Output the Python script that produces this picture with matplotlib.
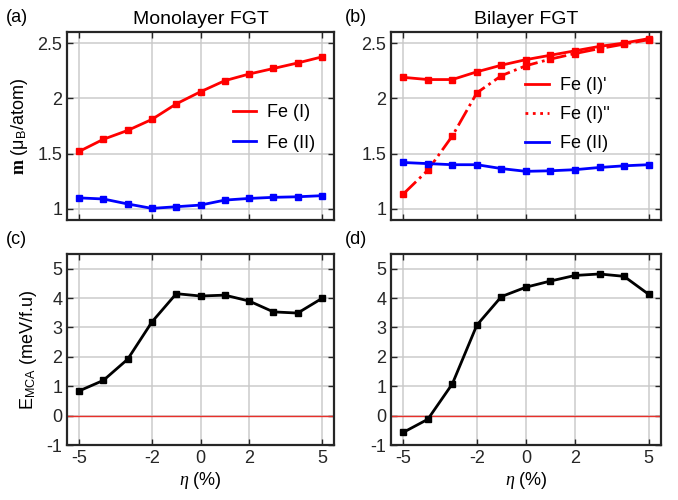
import matplotlib
matplotlib.use("Agg")
import matplotlib.pyplot as plt
from matplotlib.lines import Line2D

plt.rcParams['font.family'] = ['Liberation Sans', 'DejaVu Sans']
plt.rcParams['mathtext.fontset'] = 'custom'
plt.rcParams['mathtext.rm'] = 'Liberation Sans'
plt.rcParams['mathtext.it'] = 'Liberation Serif:italic'
plt.rcParams['mathtext.bf'] = 'Liberation Serif:bold'
plt.rcParams['axes.unicode_minus'] = False

# strain values (%)
eta = [-5, -4, -3, -2, -1, 0, 1, 2, 3, 4, 5]

# monolayer moments
mono_fe1 = [1.52, 1.63, 1.71, 1.81, 1.95, 2.06, 2.16, 2.22, 2.27, 2.32, 2.375]
mono_fe2 = [1.10, 1.09, 1.045, 1.005, 1.02, 1.035, 1.08, 1.095, 1.105, 1.11, 1.12]

# bilayer moments
bi_fe1a = [2.19, 2.17, 2.17, 2.24, 2.30, 2.35, 2.39, 2.43, 2.47, 2.50, 2.54]
bi_fe1b = [1.135, 1.35, 1.66, 2.05, 2.205, 2.295, 2.355, 2.405, 2.45, 2.49, 2.53]
bi_fe2 = [1.42, 1.41, 1.40, 1.40, 1.365, 1.34, 1.345, 1.355, 1.375, 1.39, 1.40]

# MCA energies (meV/f.u)
mca_mono = [0.84, 1.20, 1.92, 3.19, 4.15, 4.07, 4.10, 3.90, 3.53, 3.49, 3.99]
mca_bi = [-0.57, -0.125, 1.08, 3.08, 4.05, 4.37, 4.58, 4.77, 4.82, 4.74, 4.13]

xticks = [-5, -2, 0, 2, 5]
frame_col = '#262626'

fig = plt.figure(figsize=(6.78, 5.0), dpi=100)
ax_a = fig.add_axes([0.0988, 0.56, 0.394, 0.376])
ax_b = fig.add_axes([0.5767, 0.56, 0.398, 0.376])
ax_c = fig.add_axes([0.0988, 0.11, 0.394, 0.382])
ax_d = fig.add_axes([0.5767, 0.11, 0.398, 0.382])


def style(ax, top):
    ax.set_xlim(-5.5, 5.5)
    ax.set_xticks(xticks)
    if top:
        ax.set_ylim(0.9, 2.6)
        ax.set_yticks([1, 1.5, 2, 2.5])
        ax.set_yticklabels(['1', '1.5', '2', '2.5'])
        ax.set_xticklabels([])
    else:
        ax.set_ylim(-1, 5.5)
        ax.set_yticks(range(-1, 6))
        ax.axhline(0, color='#e8302a', lw=1.0, zorder=1)
        ax.set_xlabel(r'$\eta$ (%)', fontsize=13, labelpad=2)
    ax.grid(True, color='#c8c8c8', lw=1.3, alpha=0.8)
    ax.set_axisbelow(True)
    ax.tick_params(direction='in', top=True, right=True, length=4,
                   width=1.0, color=frame_col, labelsize=13,
                   labelcolor='#262626')
    for s in ax.spines.values():
        s.set_linewidth(1.6)
        s.set_color(frame_col)


lw = 2.0
ms = 4

ax_a.plot(eta, mono_fe1, '-s', color='red', lw=lw, ms=ms)
ax_a.plot(eta, mono_fe2, '-s', color='blue', lw=lw, ms=ms)
style(ax_a, True)
ax_a.set_title('Monolayer FGT', fontsize=14, pad=6)
ax_a.set_ylabel(r'$\mathbf{m}$ (μ$_\mathrm{B}$/atom)', fontsize=13, labelpad=5)
handles_a = [Line2D([], [], color='red', lw=lw),
             Line2D([], [], color='blue', lw=lw)]
ax_a.legend(handles_a, ['Fe (I)', 'Fe (II)'], loc='center right',
            bbox_to_anchor=(0.99, 0.49), frameon=False,
            fontsize=13, handlelength=1.3, handletextpad=0.6,
            labelspacing=0.75)

ax_b.plot(eta, bi_fe1a, '-s', color='red', lw=lw, ms=ms)
ax_b.plot(eta, bi_fe1b, '-.s', color='red', lw=lw, ms=ms)
ax_b.plot(eta, bi_fe2, '-s', color='blue', lw=lw, ms=ms)
style(ax_b, True)
ax_b.set_title('Bilayer FGT', fontsize=14, pad=6)
handles = [Line2D([], [], color='red', lw=lw, ls='-'),
           Line2D([], [], color='red', lw=lw, ls=':'),
           Line2D([], [], color='blue', lw=lw, ls='-')]
ax_b.legend(handles, ["Fe (I)'", "Fe (I)''", 'Fe (II)'], loc='center right',
            bbox_to_anchor=(0.87, 0.56), frameon=False, fontsize=13,
            handlelength=1.3, handletextpad=0.6, labelspacing=0.65)

ax_c.plot(eta, mca_mono, '-s', color='black', lw=lw, ms=ms)
style(ax_c, False)
ax_c.set_ylabel(r'E$_\mathrm{MCA}$ (meV/f.u)', fontsize=13, labelpad=5)

ax_d.plot(eta, mca_bi, '-s', color='black', lw=lw, ms=ms)
style(ax_d, False)

for lab, x, y in [('(a)', 0.008, 0.965), ('(b)', 0.508, 0.965),
                  ('(c)', 0.008, 0.52), ('(d)', 0.508, 0.52)]:
    fig.text(x, y, lab, fontsize=13, ha='left', va='center')

fig.savefig('out.png', dpi=100)
